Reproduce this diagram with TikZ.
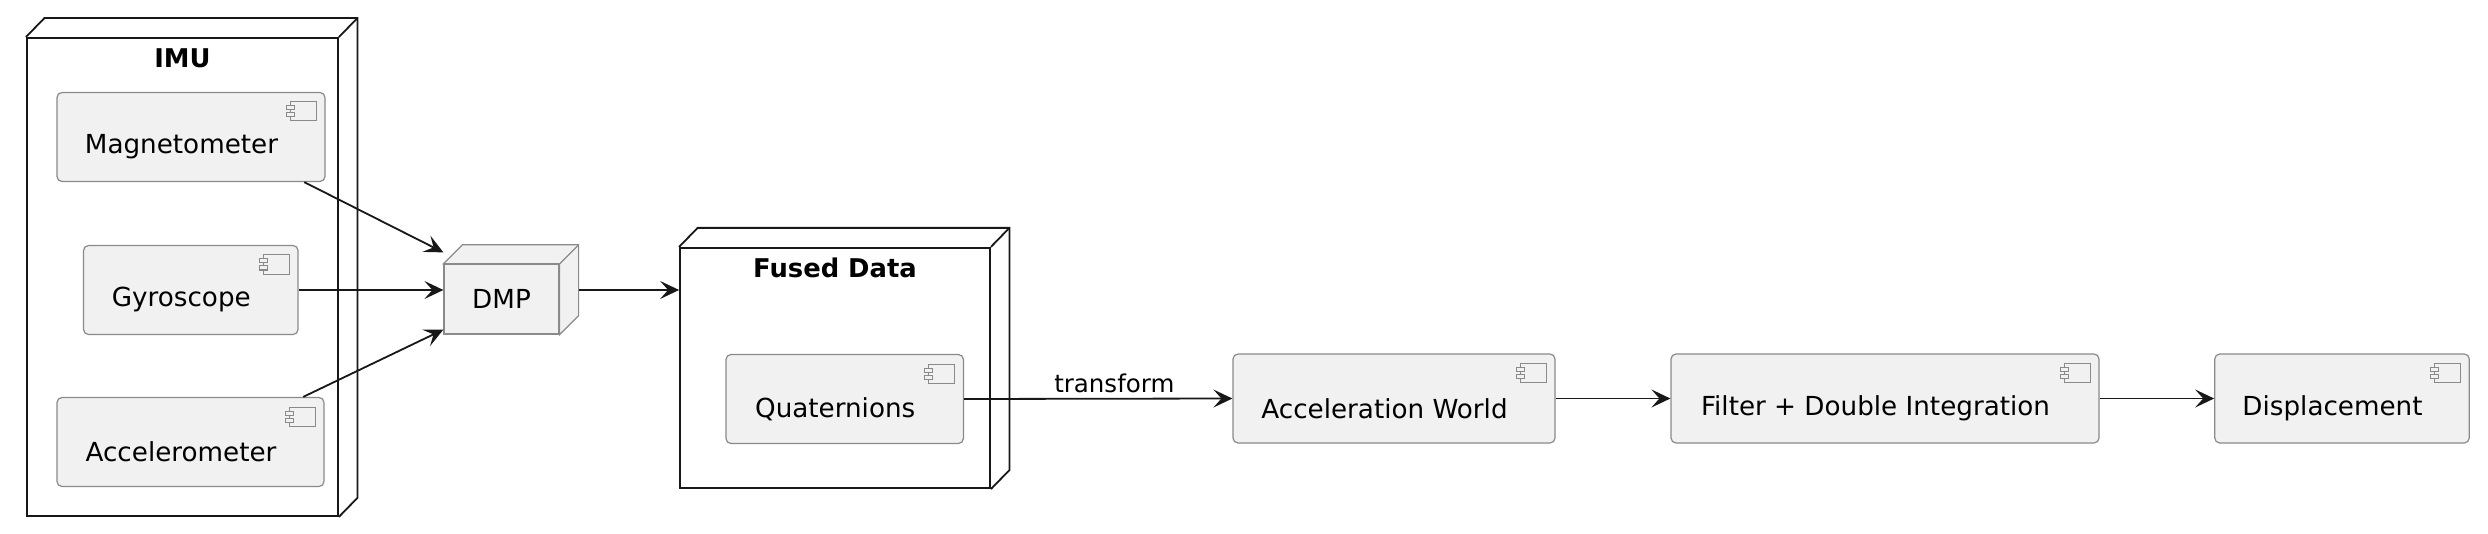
\documentclass[tikz,border=0pt]{standalone}
\usepackage{fontspec}
\setmainfont{DejaVu Sans}
\usetikzlibrary{arrows.meta}
\definecolor{compfill}{HTML}{F1F1F1}
\definecolor{linecol}{HTML}{181818}
\definecolor{edgegray}{HTML}{8A8A8A}
\tikzset{
  comp/.style={draw=edgegray, line width=0.6pt, fill=compfill, rounded corners=2.5pt,
    minimum height=44.5pt, inner sep=0pt,
    path picture={
      \draw[edgegray, line width=0.5pt, sharp corners]
        ([shift={(-17.25pt,-4.75pt)}]path picture bounding box.north east) rectangle ++(13pt,-9.5pt);
      \draw[edgegray, line width=0.5pt, fill=compfill, sharp corners]
        ([shift={(-19.25pt,-6.75pt)}]path picture bounding box.north east) rectangle ++(4pt,-2pt);
      \draw[edgegray, line width=0.5pt, fill=compfill, sharp corners]
        ([shift={(-19.25pt,-10.25pt)}]path picture bounding box.north east) rectangle ++(4pt,-2pt);
    }},
  ctext/.style={font=\fontsize{13.1}{15}\selectfont, xshift=-4.75pt, yshift=-5pt, inner sep=0pt},
  nodebox/.style={draw=linecol, line width=0.9pt, fill=white, inner sep=0pt},
  nodeline/.style={draw=linecol, line width=0.9pt},
  ttl/.style={font=\fontsize{12.9}{15}\selectfont\bfseries},
  arr/.style={-{Stealth[length=9.5pt,width=9pt,inset=4pt]}, draw=linecol, line width=0.9pt},
  elbl/.style={font=\fontsize{12.25}{14}\selectfont, inner sep=1pt}
}
\begin{document}
\begin{tikzpicture}[x=0.5pt, y=-0.5pt]
    \useasboundingbox (0,0) rectangle (2488,534);
    % IMU node
    \node[nodebox, minimum width=155.6pt, minimum height=239pt] (imu) at (182.4,277) {};
    \draw[nodeline] (imu.north west) -- ++(9.25pt,9.5pt) -| ([shift={(9.25pt,9.5pt)}]imu.south east) -- (imu.south east);
    \draw[nodeline] (imu.north east) -- ++(9.25pt,9.5pt);
    \node[ttl] (imutitle) at (182.4,58.6) {IMU};
    \node[comp, minimum width=134pt, label={[ctext]center:Magnetometer}] (mag) at (191,137) {};
    \node[comp, minimum width=107.25pt, label={[ctext]center:Gyroscope}] (gyro) at (190.8,290) {};
    \node[comp, minimum width=133.5pt, label={[ctext]center:Accelerometer}] (acc) at (190.5,442) {};

    % DMP
    \node[draw=edgegray, line width=0.6pt, fill=compfill, minimum width=57.5pt, minimum height=34.8pt,
      inner sep=0pt, font=\fontsize{13.1}{15}\selectfont] (dmp) at (501.5,299.2) {DMP};
    \draw[draw=edgegray, line width=0.6pt, fill=compfill] (dmp.north west) -- ++(9.5pt,9.5pt)
      -- ([shift={(9.5pt,9.5pt)}]dmp.north east) -- ([shift={(9.5pt,9.5pt)}]dmp.south east)
      -- (dmp.south east) -- (dmp.north east) -- cycle;
    \draw[draw=edgegray, line width=0.6pt] (dmp.north east) -- ++(9.5pt,9.5pt);

    % Fused Data node
    \node[nodebox, minimum width=155pt, minimum height=120.2pt] (fused) at (835,368) {};
    \draw[nodeline] (fused.north west) -- ++(9.25pt,9.5pt) -| ([shift={(9.25pt,9.5pt)}]fused.south east) -- (fused.south east);
    \draw[nodeline] (fused.north east) -- ++(9.25pt,9.5pt);
    \node[ttl] (fusedtitle) at (835,268) {Fused Data};
    \node[comp, minimum width=118.7pt, label={[ctext]center:Quaternions}] (quat) at (844.7,399) {};

    % chain
    \node[comp, minimum width=161pt, label={[ctext]center:Acceleration World}] (accw) at (1394,398.5) {};
    \node[comp, minimum width=214pt, label={[ctext]center:Filter + Double Integration}] (filt) at (1885,398.5) {};
    \node[comp, minimum width=127.25pt, label={[ctext]center:Displacement}] (disp) at (2342,398.5) {};

    % arrows
    \draw[arr] ([xshift=-10.7pt]mag.south east) -- ([yshift=5.7pt]dmp.north west);
    \draw[arr] (gyro.east) -- (gyro.east -| dmp.west);
    \draw[arr] ([xshift=-10.7pt]acc.north east) -- ([yshift=2.5pt]dmp.south west);
    \coordinate (dmpout) at ([xshift=9.5pt,yshift=4.6pt]dmp.east);
    \draw[arr] (dmpout) -- (dmpout -| fused.west);
    \draw[arr] (quat.east) -- node[elbl, pos=0.56, above, yshift=1.5pt] {transform} (accw.west);
    \draw[arr] (accw.east) -- (filt.west);
    \draw[arr] (filt.east) -- (disp.west);
\end{tikzpicture}
\end{document}
